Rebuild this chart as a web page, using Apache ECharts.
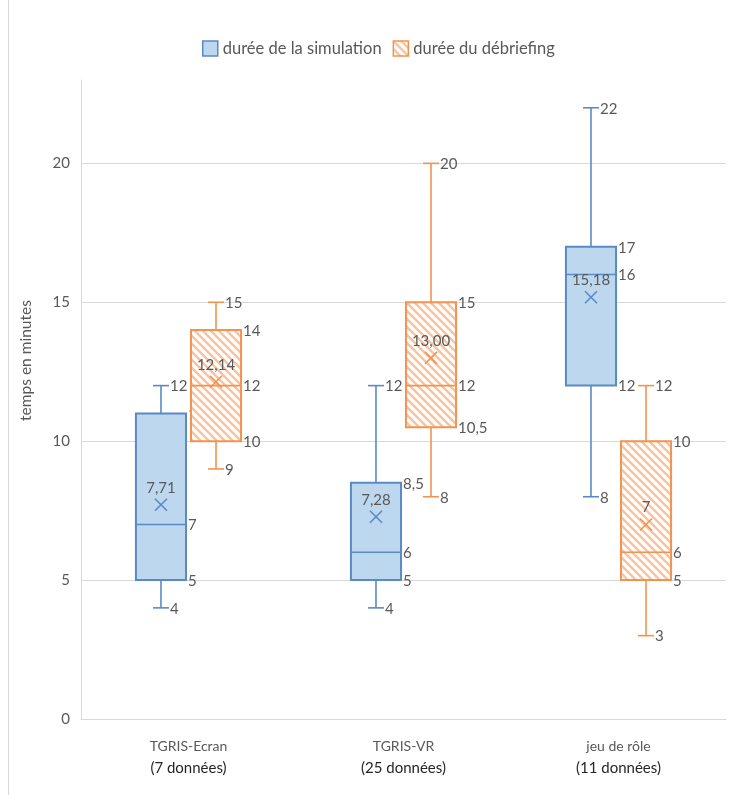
<!DOCTYPE html>
<html><head><meta charset="utf-8">
<script src="https://cdn.jsdelivr.net/npm/echarts@6/dist/echarts.min.js"></script>
<style>html,body{margin:0;padding:0;background:#fff}#c{width:730px;height:795px}</style>
</head><body><div id="c"></div>
<script>
const categories = ['TGRIS-Ecran', 'TGRIS-VR', 'jeu de rôle'];
const counts = ['(7 données)', '(25 données)', '(11 données)'];
const seriesNames = ['durée de la simulation', 'durée du débriefing'];
// [min, Q1, median, Q3, max]
const simulationBox = [[4, 5, 7, 11, 12], [4, 5, 6, 8.5, 12], [8, 12, 16, 17, 22]];
const simulationMean = [7.71, 7.28, 15.18];
const simulationMeanLabels = ['7,71', '7,28', '15,18'];
const debriefBox = [[9, 10, 12, 14, 15], [8, 10.5, 12, 15, 20], [3, 5, 6, 10, 12]];
const debriefMean = [12.14, 13.00, 7];
const debriefMeanLabels = ['12,14', '13,00', '7'];
const yAxisName = 'temps en minutes';

const FONT = 'Lato, "Open Sans", sans-serif';
const LABEL_COLOR = '#595959';
const BLUE = '#5a8ac6', BLUE_FILL = '#bdd7ee';
const ORANGE = '#f4924f';

function hatch() {
  const c = document.createElement('canvas');
  c.width = 8; c.height = 8;
  const ctx = c.getContext('2d');
  ctx.fillStyle = '#ffffff'; ctx.fillRect(0, 0, 8, 8);
  ctx.strokeStyle = '#f8c39e'; ctx.lineWidth = 2.4;
  ctx.beginPath();
  ctx.moveTo(-2, -2); ctx.lineTo(10, 10);
  ctx.moveTo(6, -2); ctx.lineTo(10, 2);
  ctx.moveTo(-2, 6); ctx.lineTo(2, 10);
  ctx.stroke();
  return { image: c, repeat: 'repeat' };
}
const hatchPattern = hatch();

function fmt(v) { return String(v).replace('.', ','); }

function buildData(box, mean, meanLabels) {
  return box.map((b, i) => ({ value: [i, b[0], b[1], b[2], b[3], b[4], mean[i]], meanLabel: meanLabels[i] }));
}

const BOX_FRAC = 0.233;
function makeRender(offsetFrac, stroke, fill, data) {
  return function (params, api) {
    const ci = api.value(0);
    const v = [1, 2, 3, 4, 5].map(i => api.value(i));
    const mean = api.value(6);
    const band = api.size([1, 0])[0];
    const cx = api.coord([ci, 0])[0] + offsetFrac * band;
    const hw = BOX_FRAC * band / 2;
    const cap = 8;
    const y = v.map(val => api.coord([ci, val])[1]);
    const my = api.coord([ci, mean])[1];
    const lw = 1.6;
    const ls = { stroke: stroke, lineWidth: lw };
    const ch = [];
    ch.push({ type: 'rect', shape: { x: cx - hw, y: y[3], width: 2 * hw, height: y[1] - y[3] }, style: { fill: fill, stroke: stroke, lineWidth: 2 } });
    ch.push({ type: 'line', shape: { x1: cx, y1: y[0], x2: cx, y2: y[1] }, style: ls });
    ch.push({ type: 'line', shape: { x1: cx, y1: y[3], x2: cx, y2: y[4] }, style: ls });
    ch.push({ type: 'line', shape: { x1: cx - cap, y1: y[0], x2: cx + cap, y2: y[0] }, style: ls });
    ch.push({ type: 'line', shape: { x1: cx - cap, y1: y[4], x2: cx + cap, y2: y[4] }, style: ls });
    ch.push({ type: 'line', shape: { x1: cx - hw, y1: y[2], x2: cx + hw, y2: y[2] }, style: ls });
    const m = 6;
    ch.push({ type: 'line', shape: { x1: cx - m, y1: my - m, x2: cx + m, y2: my + m }, style: ls });
    ch.push({ type: 'line', shape: { x1: cx - m, y1: my + m, x2: cx + m, y2: my - m }, style: ls });
    const txt = (t, x, yy, align) => ({ type: 'text', style: { text: t, x: x, y: yy, align: align || 'left', verticalAlign: 'middle', fill: LABEL_COLOR, fontSize: 15, fontFamily: FONT } });
    ch.push(txt(fmt(v[0]), cx + cap + 1, y[0] + 1));
    ch.push(txt(fmt(v[4]), cx + cap + 1, y[4] + 1));
    ch.push(txt(fmt(v[1]), cx + hw + 2, y[1] + 1));
    ch.push(txt(fmt(v[2]), cx + hw + 2, y[2] + 1));
    ch.push(txt(fmt(v[3]), cx + hw + 2, y[3] + 1));
    ch.push(txt(data[params.dataIndex].meanLabel, cx, my - 17, 'center'));
    return { type: 'group', children: ch };
  };
}

const simData = buildData(simulationBox, simulationMean, simulationMeanLabels);
const debData = buildData(debriefBox, debriefMean, debriefMeanLabels);

const chart = echarts.init(document.getElementById('c'));
chart.setOption({
  animation: false,
  backgroundColor: '#fff',
  textStyle: { fontFamily: FONT },
  graphic: [{ type: 'line', shape: { x1: 8.5, y1: 0, x2: 8.5, y2: 795 }, style: { stroke: '#d9d9d9', lineWidth: 1 } }],
  legend: {
    top: 35, left: 197, itemWidth: 15, itemHeight: 15, itemGap: 11,
    textStyle: { color: LABEL_COLOR, fontSize: 16.5, fontFamily: FONT },
    data: [
      { name: seriesNames[0], icon: 'rect', itemStyle: { color: BLUE_FILL, borderColor: BLUE, borderWidth: 1.5 } },
      { name: seriesNames[1], icon: 'rect', itemStyle: { color: hatchPattern, borderColor: ORANGE, borderWidth: 1.5 } }
    ]
  },
  grid: { left: 81, right: 4, top: 80, bottom: 76 },
  xAxis: {
    type: 'category', data: categories,
    axisLine: { lineStyle: { color: '#d9d9d9' } },
    axisTick: { show: false },
    axisLabel: {
      margin: 16,
      formatter: (v, i) => '{a|' + v + '}\n{b|' + counts[i] + '}',
      rich: {
        a: { color: LABEL_COLOR, fontSize: 14, fontFamily: FONT, lineHeight: 22 },
        b: { color: '#262626', fontSize: 15, fontFamily: FONT, lineHeight: 22 }
      }
    }
  },
  yAxis: {
    type: 'value', min: 0, max: 23, interval: 5,
    name: yAxisName, nameLocation: 'middle', nameGap: 47,
    nameTextStyle: { color: LABEL_COLOR, fontSize: 15.5, fontFamily: FONT, padding: [0, 0, 0, 78] },
    axisLine: { show: true, lineStyle: { color: '#d9d9d9' } },
    axisTick: { show: false },
    axisLabel: { color: LABEL_COLOR, fontSize: 15, fontFamily: FONT, margin: 11, showMaxLabel: false },
    splitLine: { show: true, showMaxLine: false, lineStyle: { color: '#d9d9d9' } }
  },
  series: [
    { name: seriesNames[0], type: 'custom', renderItem: makeRender(-0.128, BLUE, BLUE_FILL, simData), data: simData,
      encode: { x: 0, y: [1, 2, 3, 4, 5] }, itemStyle: { color: BLUE_FILL, borderColor: BLUE } },
    { name: seriesNames[1], type: 'custom', renderItem: makeRender(0.128, ORANGE, hatchPattern, debData), data: debData,
      encode: { x: 0, y: [1, 2, 3, 4, 5] }, itemStyle: { color: ORANGE, borderColor: ORANGE } }
  ]
});
</script></body></html>
